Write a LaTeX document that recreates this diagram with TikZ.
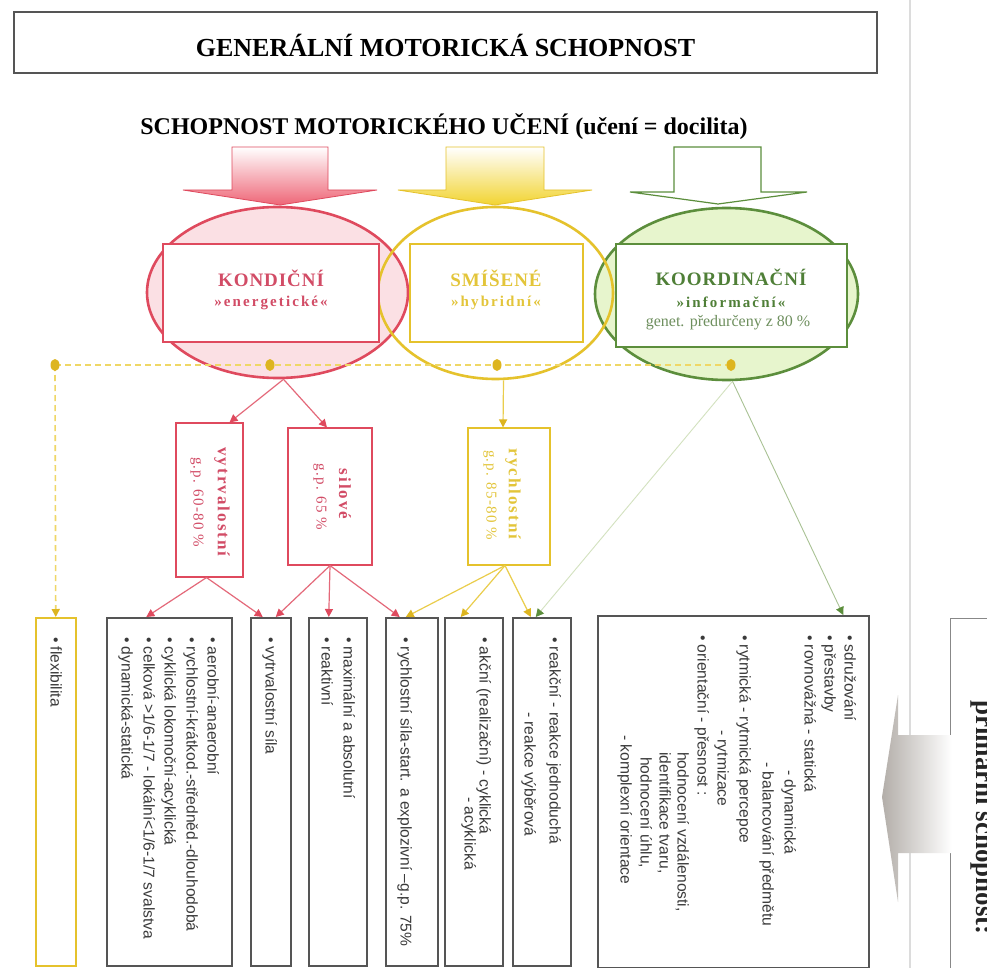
\documentclass[tikz,border=0pt]{standalone}
\usepackage{fontspec}
\setmainfont{Liberation Serif}
\setsansfont{Liberation Sans}
\usetikzlibrary{shapes.geometric,arrows.meta}
\definecolor{kred}{HTML}{DF4A5E}
\definecolor{kredl}{HTML}{E4697A}
\definecolor{kredt}{HTML}{D24C66}
\definecolor{kredf}{HTML}{EE6677}
\definecolor{kpink}{HTML}{FBE0E4}
\definecolor{kyel}{HTML}{E5C22C}
\definecolor{kyell}{HTML}{EACD4C}
\definecolor{kyelt}{HTML}{E3C53A}
\definecolor{kyelf}{HTML}{F2D431}
\definecolor{kdot}{HTML}{DDB520}
\definecolor{kdash}{HTML}{EFD766}
\definecolor{kgreen}{HTML}{5C8E3C}
\definecolor{kgreent}{HTML}{4F7F37}
\definecolor{kgreeng}{HTML}{6E8F5E}
\definecolor{klgreen}{HTML}{E7F5CD}
\definecolor{kpale}{HTML}{D3E2BF}
\definecolor{kmid}{HTML}{A9C294}
\definecolor{kbox}{HTML}{555555}
\definecolor{kline}{HTML}{DCDCDC}
\definecolor{ktxt}{HTML}{3A3A3A}
\definecolor{kgrayarrow}{HTML}{B3AEA9}
\begin{document}
\begin{tikzpicture}[x=1pt,y=-1pt,
  lbox/.style={draw=kbox, line width=1.5pt, fill=white, inner sep=0pt, anchor=north west, minimum height=348},
  mbox/.style={line width=1.1pt, fill=white, inner sep=0pt},
  vt/.style={rotate=-90, anchor=mid west, inner sep=0pt, text=ktxt, font=\sffamily\fontsize{15.6}{18}\selectfont},
  mtb/.style={rotate=-90, inner sep=0pt, font=\bfseries\fontsize{17}{20}\selectfont\addfontfeature{LetterSpace=12}},
  mtr/.style={rotate=-90, inner sep=0pt, font=\fontsize{15}{18}\selectfont\addfontfeature{LetterSpace=8}},
  capt/.style={inner sep=0pt, font=\bfseries\fontsize{19}{22}\selectfont\addfontfeature{LetterSpace=5}},
  subt/.style={inner sep=0pt, font=\bfseries\fontsize{15}{18}\selectfont\addfontfeature{LetterSpace=14}},
  dotn/.style={ellipse, fill=kdot, minimum width=9, minimum height=12, inner sep=0pt},
  redc/.style={draw=kredl, line width=1.2pt, -{Triangle[length=8pt,width=8pt,color=kred]}},
  yelc/.style={draw=kyell, line width=1.2pt, -{Triangle[length=8pt,width=8pt,color=kdot]}},
  grnc/.style={line width=0.9pt, -{Triangle[length=8pt,width=8pt,color=kgreen]}}
]
\useasboundingbox (0,0) rectangle (987,968);
\fill[white] (0,0) rectangle (987,968);

% page edge line
\draw[kline, line width=1.5pt] (910,0) -- (910,968);

% title
\node[draw=kbox, line width=1.2pt, minimum width=863, minimum height=61, inner sep=0pt] (title) at (445.5,42.5) {};
\node[inner sep=0pt, font=\bfseries\fontsize{26}{30}\selectfont] (titletext) at (445.5,45) {GENERÁLNÍ MOTORICKÁ SCHOPNOST};
\node[inner sep=0pt, font=\bfseries\fontsize{24}{28}\selectfont] (sub) at (444,127) {SCHOPNOST MOTORICKÉHO UČENÍ (učení = docilita)};

% block arrows
\path[draw=kred, line width=0.8pt, top color=white, bottom color=kredf]
  (232,147) -- (328,147) -- (328,190) -- (377,190) -- (280,205) -- (183,190) -- (232,190) -- cycle;
\path[draw=kyel, line width=0.8pt, top color=white, bottom color=kyelf]
  (446,147) -- (544,147) -- (544,190) -- (592,190) -- (495,205) -- (398,190) -- (446,190) -- cycle;
\path[draw=kgreen, line width=1.2pt, fill=white]
  (674,147) -- (761,147) -- (761,192) -- (807,192) -- (718,204) -- (630,192) -- (674,192) -- cycle;

% ellipses
\node[ellipse, draw=kred, line width=2.6pt, fill=kpink, minimum width=261, minimum height=171, inner sep=0pt] (ellK) at (277.5,292.5) {};
\node[ellipse, draw=kgreen, line width=2.6pt, fill=klgreen, minimum width=263, minimum height=172, inner sep=0pt] (ellKo) at (726.5,294) {};
\node[ellipse, draw=kyel, line width=2.6pt, minimum width=235, minimum height=172, inner sep=0pt] (ellS) at (495.5,293) {};

% rectangles in ellipses
\node[draw=kred, mbox, minimum width=216, minimum height=98] (kondR) at (271,293) {};
\node[draw=kyel, mbox, minimum width=173, minimum height=98] (smisR) at (496.5,293) {};
\node[draw=kgreen, mbox, line width=1.6pt, minimum width=231, minimum height=103] (koorR) at (731.5,295.5) {};

\node[capt, text=kredt] (kondT) at (271,278) {KONDIČNÍ};
\node[subt, text=kredt] (kondS) at (271,303) {»energetické«};
\node[capt, text=kyelt] (smisT) at (496,278) {SMÍŠENÉ};
\node[subt, text=kyelt] (smisS) at (496,303) {»hybridní«};
\node[capt, text=kgreent] (koorT) at (731,277) {KOORDINAČNÍ};
\node[subt, text=kgreent] (koorS) at (731,302) {»informační«};
\node[inner sep=0pt, text=kgreeng, font=\fontsize{16}{18}\selectfont] (koorG) at (728,323) {genet. předurčeny z 80 \%};

% middle boxes
\node[draw=kred, mbox, minimum width=67, minimum height=154] (vytr) at (209.5,500) {};
\node[draw=kred, mbox, minimum width=84, minimum height=137] (sil) at (330,496.5) {};
\node[draw=kyel, mbox, minimum width=82, minimum height=137] (rych) at (509,496.5) {};
\node[mtb, text=kredt] (vytrA) at (222,502) {vytrvalostní};
\node[mtr, text=kredt] (vytrB) at (197,502) {g.p. 60-80 \%};
\node[mtb, text=kredt] (silA) at (345,494) {silové};
\node[mtr, text=kredt] (silB) at (320,497) {g.p. 65 \%};
\node[mtb, text=kyelt] (rychA) at (513,494) {rychlostní};
\node[mtr, text=kyelt] (rychB) at (490,495) {g.p. 85-80 \%};

% bottom boxes
\node[lbox, draw=kyel, minimum width=40] (flex) at (35,617) {};
\node[lbox, minimum width=125] (aer) at (106,617) {};
\node[lbox, minimum width=40] (vsila) at (250,617) {};
\node[lbox, minimum width=58] (maxi) at (308,617) {};
\node[lbox, minimum width=52] (rsila) at (385,617) {};
\node[lbox, minimum width=58] (akcni) at (444,617) {};
\node[lbox, minimum width=58] (reakc) at (512,617) {};
\node[lbox, minimum width=271, minimum height=352] (koord) at (597,615) {};

\node[vt] (t1) at (53,637) {• flexibilita};
\node[vt] (t2) at (210,637) {• aerobní-anaerobní};
\node[vt] (t3) at (189,637) {• rychlostní-krátkod.-středněd.-dlouhodobá};
\node[vt] (t4) at (167,637) {• cyklická lokomoční-acyklická};
\node[vt] (t5) at (146,637) {• celková >1/6-1/7 - lokální<1/6-1/7 svalstva};
\node[vt] (t6) at (124,637) {• dynamická-statická};
\node[vt] (t7) at (268,637) {• vytrvalostní síla};
\node[vt] (t8) at (346,637) {• maximální a absolutní};
\node[vt] (t9) at (324,637) {• reaktivní};
\node[vt] (t10) at (403,637) {• rychlostní síla-start. a explozivní –g.p. 75\%};
\node[vt] (t11) at (482,637) {• akční (realizační) - cyklická};
\node[vt] (t12) at (467,797) {- acyklická};
\node[vt] (t13) at (552,637) {• reakční - reakce jednoduchá};
\node[vt] (t14) at (527,712) {- reakce výběrová};
\node[vt] (k1) at (847,635) {• sdružování};
\node[vt] (k2) at (827,635) {• přestavby};
\node[vt] (k3) at (807,635) {• rovnovážná - statická};
\node[vt] (k4) at (787,770) {- dynamická};
\node[vt] (k5) at (765,762) {- balancování předmětu};
\node[vt] (k6) at (742,635) {• rytmická - rytmická percepce};
\node[vt] (k7) at (720,730) {- rytmizace};
\node[vt] (k8) at (700,635) {• orientační - přesnost :};
\node[vt] (k9) at (680,752) {hodnocení vzdálenosti,};
\node[vt] (k10) at (662,752) {identifikace tvaru,};
\node[vt] (k11) at (643,757) {hodnocení úhlu,};
\node[vt] (k12) at (623,735) {- komplexní orientace};

% dashed line with dots
\coordinate (d1) at (55,365);
\coordinate (d2) at (270,365);
\coordinate (d3) at (497,365);
\coordinate (d4) at (731,365);
\draw[kdash, line width=2.2pt, dash pattern=on 6pt off 4pt] (d1) -- (d4);
\draw[kdash, line width=1.6pt, dash pattern=on 6pt off 4pt, -{Triangle[length=8pt,width=8pt,color=kdot]}] (d1) -- (flex.north);
\node[dotn] (dot1) at (d1) {};
\node[dotn] (dot2) at (d2) {};
\node[dotn] (dot3) at (d3) {};
\node[dotn] (dot4) at (d4) {};

% red connectors
\draw[redc] ([xshift=6pt]ellK.south) -- ([xshift=20pt]vytr.north);
\draw[redc] ([xshift=6pt]ellK.south) -- ([xshift=-3pt]sil.north);
\draw[redc] ([xshift=-3pt]vytr.south) -- ([xshift=-23pt]aer.north);
\draw[redc] ([xshift=-3pt]vytr.south) -- ([xshift=-8pt]vsila.north);
\draw[redc] (sil.south) -- ([xshift=5pt]vsila.north);
\draw[redc] (sil.south) -- ([xshift=-9pt]maxi.north);
\draw[redc] (sil.south) -- ([xshift=-12pt]rsila.north);
% yellow connectors
\draw[yelc] ([xshift=8pt]ellS.south) -- ([xshift=-6pt]rych.north);
\draw[yelc] ([xshift=-4pt]rych.south) -- ([xshift=-6pt]rsila.north);
\draw[yelc] ([xshift=-4pt]rych.south) -- ([xshift=-13pt]akcni.north);
\draw[yelc] ([xshift=-4pt]rych.south) -- ([xshift=-11pt]reakc.north);
% green connectors
\draw[grnc, draw=kpale] ([xshift=6pt]ellKo.south) -- ([xshift=-6pt]reakc.north);
\draw[grnc, draw=kmid] ([xshift=6pt]ellKo.south) -- ([xshift=110pt]koord.north);

% right side: box and arrow
\node[draw=kbox!70, line width=1.2pt, fill=white, inner sep=0pt, anchor=north west, minimum width=80, minimum height=380] (prim) at (950,618) {};
\node[rotate=-90, anchor=base west, inner sep=0pt, font=\bfseries\fontsize{27}{30}\selectfont, text=black!85] (primT) at (976,700) {primární schopnost:};
\path[left color=kgrayarrow, right color=white]
  (882,797) -- (898,695) -- (898,735) -- (952,735) -- (952,853) -- (898,853) -- (898,902) -- cycle;
\end{tikzpicture}
\end{document}
